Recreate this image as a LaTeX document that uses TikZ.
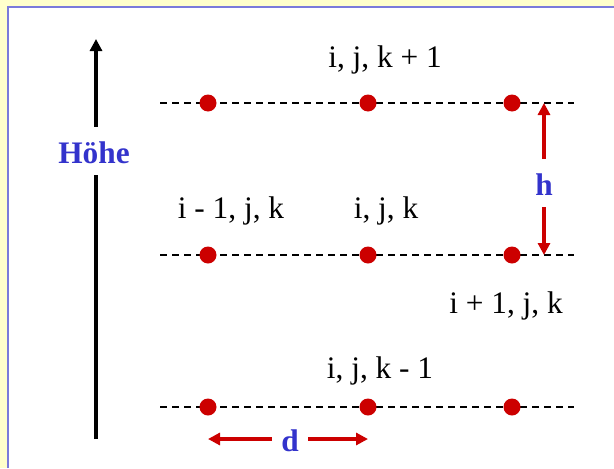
\documentclass[tikz,border=0pt]{standalone}
\usepackage{fontspec}
\setmainfont{Liberation Serif}
\usepackage{xcolor}
\usetikzlibrary{arrows.meta, positioning, calc}
\definecolor{panelbg}{RGB}{255, 255, 204}
\definecolor{framecol}{RGB}{123, 123, 219}
\definecolor{ptred}{RGB}{204, 0, 0}
\definecolor{lblblue}{RGB}{51, 51, 204}
\tikzset{
    idx/.style={anchor=base, inner sep=0pt, font=\fontsize{23.5pt}{28pt}\selectfont},
    dimlabel/.style={idx, text=lblblue, font=\fontsize{23.5pt}{28pt}\selectfont\bfseries, text height=27pt, text depth=9pt, minimum width=27pt},
    pt/.style={circle, fill=ptred, draw=none, minimum size=12.75pt, inner sep=0pt},
    gridline/.style={dash pattern=on 5.25pt off 3.75pt, line width=1.5pt, black},
    zarr/.style={-{Triangle[length=9pt, width=9pt]}, line width=3.5pt, black},
    redarr/.style={-{Triangle[length=9pt, width=9pt]}, line width=3pt, ptred}
}
\begin{document}
\begin{tikzpicture}[x=0.75pt, y=-0.75pt]
        \useasboundingbox (0,0) rectangle (614,468);
        \fill[panelbg] (0,0) rectangle (614,468);
        \fill[white] (7,6) rectangle (614,468);
        \draw[framecol, line width=1.5pt] (8,468) -- (8,7) -- (614,7);

        % three layers k+1, k, k-1
        \coordinate (k1w) at (160,103);
        \coordinate (k1e) at (574,103);
        \coordinate (k0w) at (160,255);
        \coordinate (k0e) at (574,255);
        \coordinate (km1w) at (160,407);
        \coordinate (km1e) at (574,407);
        \draw[gridline] (k1w) -- (k1e);
        \draw[gridline] (k0w) -- (k0e);
        \draw[gridline] (km1w) -- (km1e);

        \node[pt] (t1) at (208,103) {};
        \node[pt] (t2) at (368,103) {};
        \node[pt] (t3) at (512,103) {};
        \node[pt] (m1) at (208,255) {};
        \node[pt] (m2) at (368,255) {};
        \node[pt] (m3) at (512,255) {};
        \node[pt] (b1) at (208,407) {};
        \node[pt] (b2) at (368,407) {};
        \node[pt] (b3) at (512,407) {};

        \node[idx] (lt) at (385,67) {i, j, k + 1};
        \node[idx] (lm1) at (231,218) {i - 1, j, k};
        \node[idx] (lm2) at (386,218) {i, j, k};
        \node[idx] (lm3) at (506,313) {i + 1, j, k};
        \node[idx] (lb) at (380,378) {i, j, k - 1};

        % height axis
        \coordinate (ztop) at (96,39);
        \coordinate (zbot) at (96,439);
        \node[dimlabel] (hoehe) at (94,163) {Höhe};
        \draw[line width=3.5pt] (zbot) -- (hoehe.south -| zbot);
        \draw[zarr] (hoehe.north -| ztop) -- (ztop);

        % spacings h and d
        \node[dimlabel] (h) at (544,195) {h};
        \draw[redarr] (h.north) -- (h.north |- t3);
        \draw[redarr] (h.south) -- (h.south |- m3);
        \node[dimlabel] (d) at (290,451) {d};
        \draw[redarr] (d.west) -- (d.west -| b1);
        \draw[redarr] (d.east) -- (d.east -| b2);
    \end{tikzpicture}
\end{document}
